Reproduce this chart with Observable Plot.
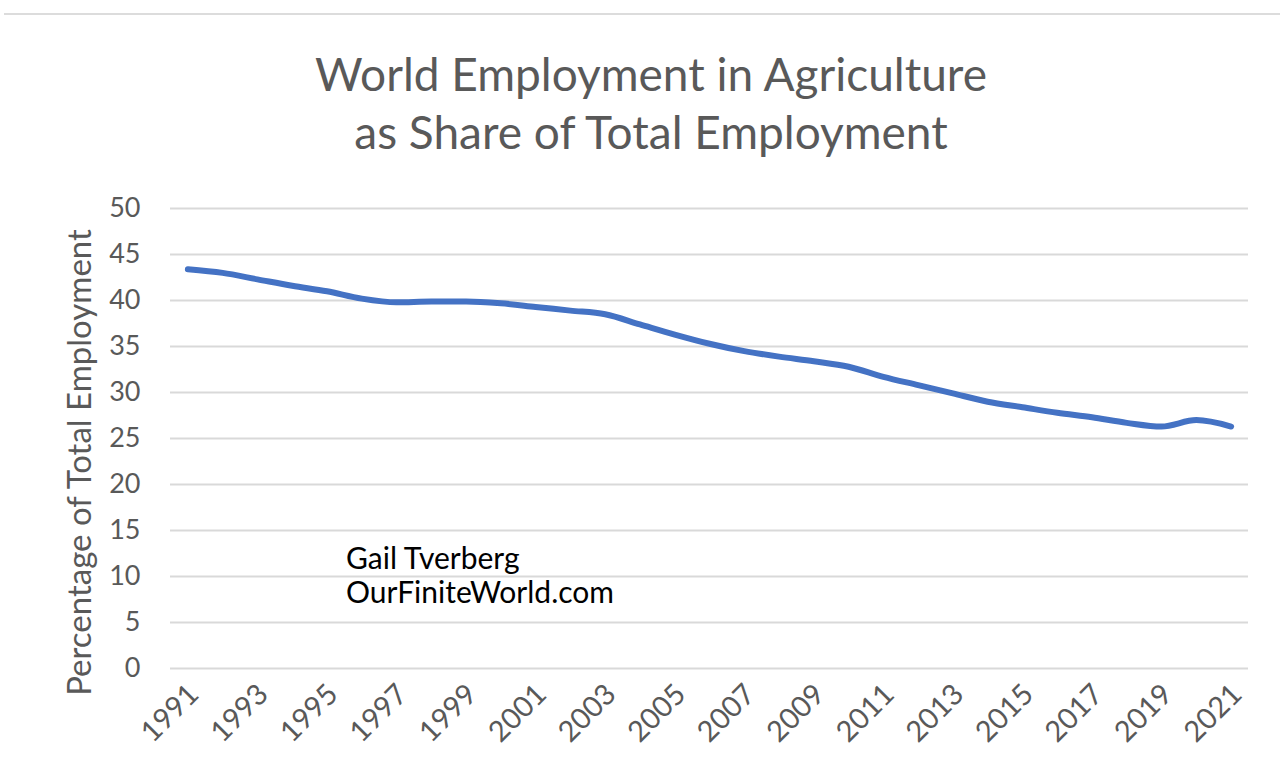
<!DOCTYPE html>
<html>
<head>
<meta charset="utf-8">
<script src="https://cdn.jsdelivr.net/npm/d3@7"></script>
<script src="https://cdn.jsdelivr.net/npm/@observablehq/plot@0.6"></script>
<style>
  html, body { margin: 0; padding: 0; background: #fff; }
  body { width: 1280px; height: 778px; position: relative; overflow: hidden; font-family: Lato, "Open Sans", sans-serif; }
  #topline { position: absolute; top: 13px; left: 4px; right: 0; height: 2px; background: #dcdcdc; }
  #title { position: absolute; top: 45px; left: 22px; width: 1258px; text-align: center; font-size: 46px; line-height: 58px; color: #595959; }
  #chart { position: absolute; top: 170px; left: 0; }
  #credit { position: absolute; left: 346px; top: 540px; font-size: 30px; line-height: 34px; color: #000; }
</style>
</head>
<body>
<div id="topline"></div>
<div id="title">World Employment in Agriculture<br>as Share of Total Employment</div>
<div id="chart"></div>
<div id="credit">Gail Tverberg<br>OurFiniteWorld.com</div>
<script>
const years = [1991,1992,1993,1994,1995,1996,1997,1998,1999,2000,2001,2002,2003,2004,2005,2006,2007,2008,2009,2010,2011,2012,2013,2014,2015,2016,2017,2018,2019,2020,2021];
const shares = [43.4,43.0,42.3,41.6,41.0,40.2,39.8,39.9,39.9,39.7,39.3,38.9,38.5,37.4,36.3,35.3,34.5,33.9,33.4,32.8,31.7,30.8,29.9,29.0,28.4,27.8,27.3,26.7,26.3,27.0,26.3];
const xTicks = [1991,1993,1995,1997,1999,2001,2003,2005,2007,2009,2011,2013,2015,2017,2019,2021];
const yTicks = [0,5,10,15,20,25,30,35,40,45,50];
const yLabel = "Percentage of Total Employment";

const data = years.map((year, i) => ({year, value: shares[i]}));

const chart = Plot.plot({
  width: 1280,
  height: 608,
  marginLeft: 170,
  marginRight: 32,
  marginTop: 38,
  marginBottom: 110,
  style: {fontFamily: "Lato, 'Open Sans', sans-serif", color: "#595959", background: "transparent"},
  x: {domain: [1990.5, 2021.5]},
  y: {domain: [0, 50]},
  marks: [
    Plot.gridY(yTicks, {stroke: "#d9d9d9", strokeOpacity: 1, strokeWidth: 2}),
    Plot.axisY(yTicks, {tickSize: 0, tickPadding: 30, fontSize: 27, fill: "#595959", label: null}),
    Plot.text([yLabel], {text: d => d, frameAnchor: "left", textAnchor: "middle", rotate: -90, dx: -90, dy: 24, fontSize: 33, fill: "#595959"}),
    Plot.axisX(xTicks, {tickSize: 0, tickPadding: 21, dx: 6, tickRotate: -45, tickFormat: d => String(d), fontSize: 29, fill: "#595959", label: null}),
    Plot.lineY(data, {x: "year", y: "value", stroke: "#4472C4", strokeWidth: 6, curve: "monotone-x", strokeLinecap: "round", strokeLinejoin: "round"})
  ]
});
document.getElementById("chart").appendChild(chart);
</script>
</body>
</html>
